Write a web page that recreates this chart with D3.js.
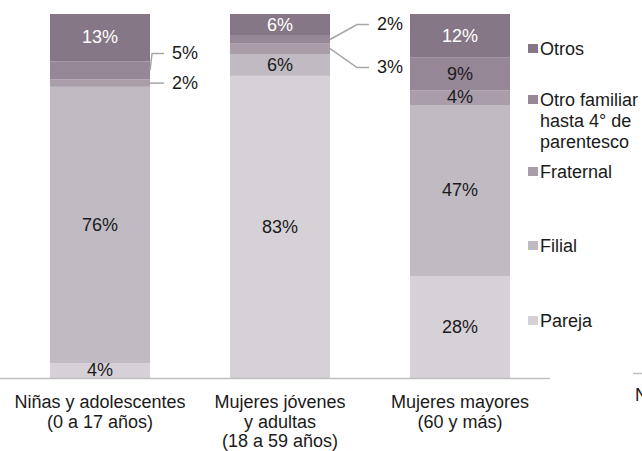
<!DOCTYPE html>
<html>
<head>
<meta charset="utf-8">
<script src="https://cdn.jsdelivr.net/npm/d3@7"></script>
<style>
  body { margin: 0; background: #fff; }
  svg { display: block; }
  text { font-family: "Liberation Sans", Arial, sans-serif; }
</style>
</head>
<body>
<div id="chart"></div>
<script>
// categories (multi-line labels)
const categories = ['Niñas y adolescentes', 'Mujeres jóvenes y adultas', 'Mujeres mayores'];
const categoryLines = [
    ['Niñas y adolescentes', '(0 a 17 años)'],
    ['Mujeres jóvenes', 'y adultas', '(18 a 59 años)'],
    ['Mujeres mayores', '(60 y más)']
];

// series, bottom to top
const series = ['Pareja', 'Filial', 'Fraternal', 'Otro familiar hasta 4° de parentesco', 'Otros'];
const pareja = [4, 83, 28];
const filial = [76, 6, 47];
const fraternal = [2, 3, 4];
const otroFamiliar = [5, 2, 9];
const otros = [13, 6, 12];

const colors = ['#d6d1d7', '#c0bbc2', '#aa9daa', '#968796', '#857785'];

// labels drawn outside the bar with a leader line: [category index, series index, dy, elbow dx]
const callouts = [
    [0, 3, -17, 2],
    [0, 2, 0, 2],
    [1, 3, -15, 27],
    [1, 2, 19, 27]
];

const width = 642, height = 451;
const fontSize = 18;
const svg = d3.select('#chart').append('svg')
    .attr('width', width)
    .attr('height', height);

const x = d3.scaleBand()
    .domain(categories)
    .range([10, 550])
    .paddingInner(0.444)
    .paddingOuter(0.222);

const y = d3.scaleLinear()
    .domain([0, 100])
    .range([378, 14]);

const table = categories.map((c, i) => ({
    cat: c,
    [series[0]]: pareja[i],
    [series[1]]: filial[i],
    [series[2]]: fraternal[i],
    [series[3]]: otroFamiliar[i],
    [series[4]]: otros[i]
}));

const stacked = d3.stack().keys(series)(table);

//____________________________________________________________
// bars
const layers = svg.append('g')
    .selectAll('g')
    .data(stacked)
    .join('g')
    .attr('fill', (d, i) => colors[i]);

layers.selectAll('rect')
    .data(d => d)
    .join('rect')
    .attr('x', d => x(d.data.cat))
    .attr('y', d => y(d[1]))
    .attr('width', x.bandwidth())
    .attr('height', d => y(d[0]) - y(d[1]));

//____________________________________________________________
// value labels
const isCallout = (ci, si) => callouts.find(c => c[0] === ci && c[1] === si);

stacked.forEach((layer, si) => {
    layer.forEach((d, ci) => {
        const value = d[1] - d[0];
        const cy = (y(d[0]) + y(d[1])) / 2;
        const c = isCallout(ci, si);
        if (c) {
            const x0 = x(d.data.cat) + x.bandwidth();
            const ly = cy + c[2];
            svg.append('path')
                .attr('d', d3.line()([[x0, cy], [x0 + c[3], ly], [x0 + c[3] + 12, ly]]))
                .attr('fill', 'none')
                .attr('stroke', '#a6a6a6')
                .attr('stroke-width', 1.5);
            svg.append('text')
                .attr('x', x0 + c[3] + 20)
                .attr('y', ly + 1)
                .attr('dominant-baseline', 'middle')
                .attr('font-size', fontSize)
                .attr('fill', '#1a1a1a')
                .text(value + '%');
        } else {
            svg.append('text')
                .attr('x', x(d.data.cat) + x.bandwidth() / 2)
                .attr('y', cy + 1)
                .attr('text-anchor', 'middle')
                .attr('dominant-baseline', 'middle')
                .attr('font-size', fontSize)
                .attr('fill', si === 4 ? '#ffffff' : '#1a1a1a')
                .text(value + '%');
        }
    });
});

//____________________________________________________________
// axis
svg.append('line')
    .attr('x1', 0).attr('x2', 550)
    .attr('y1', y(0) + 0.5).attr('y2', y(0) + 0.5)
    .attr('stroke', '#bfbfbf')
    .attr('stroke-width', 1.5);

categories.forEach((c, i) => {
    const t = svg.append('text')
        .attr('text-anchor', 'middle')
        .attr('font-size', fontSize)
        .attr('fill', '#1a1a1a');
    categoryLines[i].forEach((line, j) => {
        t.append('tspan')
            .attr('x', x(c) + x.bandwidth() / 2)
            .attr('y', 408 + j * 19.5)
            .text(line);
    });
});

//____________________________________________________________
// legend (top to bottom)
const legendItems = [
    { lines: ['Otros'], y: 49, color: colors[4] },
    { lines: ['Otro familiar', 'hasta 4° de', 'parentesco'], y: 100, color: colors[3] },
    { lines: ['Fraternal'], y: 172, color: colors[2] },
    { lines: ['Filial'], y: 246, color: colors[1] },
    { lines: ['Pareja'], y: 321, color: colors[0] }
];

const legend = svg.append('g');
legendItems.forEach(item => {
    legend.append('rect')
        .attr('x', 528)
        .attr('y', item.y - 5)
        .attr('width', 10)
        .attr('height', 9)
        .attr('fill', item.color);
    const t = legend.append('text')
        .attr('font-size', fontSize)
        .attr('fill', '#1a1a1a');
    item.lines.forEach((line, j) => {
        t.append('tspan')
            .attr('x', 540)
            .attr('y', item.y + 6 + j * 21)
            .text(line);
    });
});

//____________________________________________________________
// cut-off neighbour content at right edge
svg.append('line')
    .attr('x1', 633).attr('x2', 642)
    .attr('y1', 373.5).attr('y2', 373.5)
    .attr('stroke', '#bfbfbf')
    .attr('stroke-width', 1.5);
svg.append('text')
    .attr('x', 635)
    .attr('y', 401)
    .attr('font-size', fontSize)
    .attr('fill', '#1a1a1a')
    .text('N');
</script>
</body>
</html>
